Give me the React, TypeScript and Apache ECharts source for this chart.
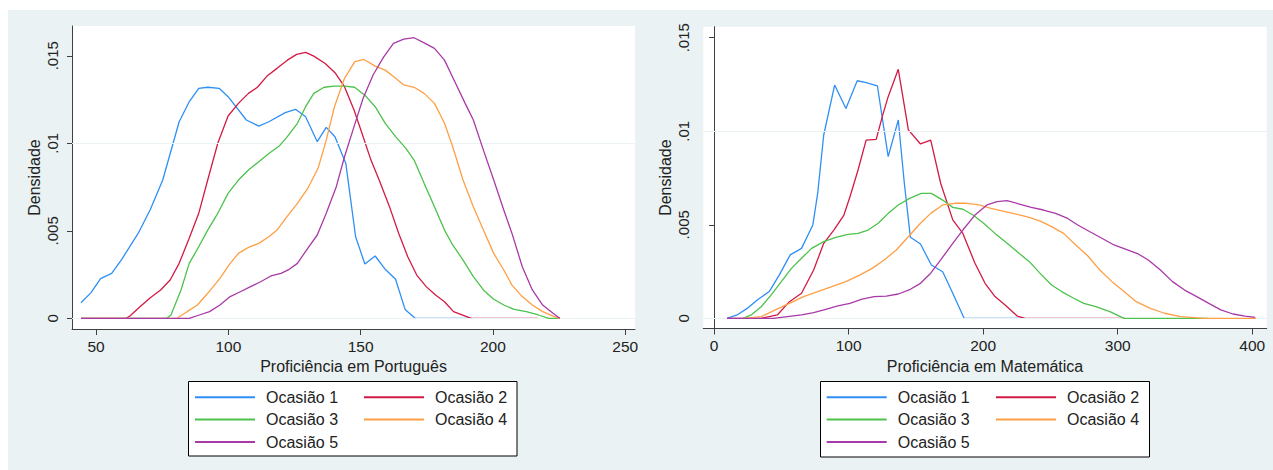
import React, { useEffect, useRef } from "react";
import * as echarts from "echarts";

const occasionNames = ["Ocasião 1", "Ocasião 2", "Ocasião 3", "Ocasião 4", "Ocasião 5"];
const occasionColors = ["#2F8FF5", "#D21A44", "#4CC24C", "#FF9F45", "#A83AA8"];

const yTickValues = [0, 0.005, 0.01, 0.015];
const yTickLabels = ["0", ".005", ".01", ".015"];
const portTicks = [50, 100, 150, 200, 250];
const matTicks = [0, 100, 200, 300, 400];
const portTitle = "Proficiência em Português";
const matTitle = "Proficiência em Matemática";
const yTitle = "Densidade";

// Proficiência em Português — densidade por ocasião [x, densidade]
const port1: number[][] = [[44.3,.00089],[48.1,.00147],[51.7,.00227],[55.9,.00257],[59.7,.00337],[65.9,.00485],[70.5,.00622],[75.2,.0079],[81.4,.01123],[85.2,.01237],[88.8,.01314],[92.2,.0132],[96.5,.01314],[99.9,.01266],[106.8,.01133],[111.5,.01098],[115.3,.01123],[121.5,.01175],[125.4,.01194],[129.2,.01152],[133.6,.01009],[137,.01091],[140.3,.01037],[144.4,.00885],[148.1,.00466],[151.6,.0031],[155.5,.00356],[159.3,.0028],[163.2,.00223],[166.8,.00051],[170.6,0],[192,0]];
const port2: number[][] = [[44.3,0],[61.3,0],[62.8,.00013],[66.7,.00067],[70.5,.00118],[74.4,.00162],[78,.00219],[81.4,.00314],[85.2,.00457],[88.8,.006],[92.2,.0079],[96,.01],[99.9,.01156],[103.8,.01228],[107.6,.01285],[111,.0132],[114.6,.01384],[118.4,.01428],[122.3,.01475],[125.8,.01508],[129.2,.01519],[132.3,.01498],[136.6,.01456],[140.3,.01403],[143.9,.01323],[147.5,.0119],[150.5,.01057],[153.9,.00904],[157,.0079],[160.9,.00638],[164.4,.00485],[167.8,.00352],[171.2,.00247],[174.8,.00181],[178.3,.00133],[181.7,.00095],[185.1,.00038],[191.8,0],[217,0]];
const port3: number[][] = [[44.3,0],[76.7,0],[78.3,.00019],[82.1,.00162],[85.2,.00314],[88.8,.00409],[92.2,.00504],[96,.006],[99.9,.00714],[103.8,.0079],[107.6,.00847],[111.5,.00895],[115.3,.00942],[119.2,.00984],[122.3,.01038],[126.1,.01114],[129.2,.01209],[132.3,.01285],[136.2,.0132],[140,.01327],[143.9,.01327],[147.7,.0132],[151.6,.01275],[155.5,.01209],[159.3,.01114],[163.2,.01038],[167.1,.00971],[170.2,.00904],[174,.00771],[177.9,.00638],[181.7,.00504],[184.8,.00419],[188.7,.00333],[192.6,.00238],[196.4,.00162],[200.3,.00109],[204.1,.00076],[208,.00051],[212.6,.00038],[217.2,.00019],[221.1,0],[225.3,0]];
const port4: number[][] = [[44.3,0],[80.6,0],[84.4,.00038],[88.3,.00076],[92.2,.00143],[96.8,.00228],[100.7,.00314],[103.8,.00371],[107.6,.00405],[111.5,.00428],[115.3,.00466],[118.4,.00504],[122.3,.00584],[126.1,.00657],[130,.00742],[133.9,.00857],[137,.01018],[140.1,.01209],[143.9,.01371],[147.8,.01466],[151.3,.01479],[155.5,.01441],[159.3,.01418],[162.9,.01376],[166.3,.01333],[170.2,.0132],[174,.01285],[177.9,.01228],[181.7,.01114],[184.8,.0098],[188.7,.0079],[192.6,.00638],[196.4,.00504],[200.3,.00371],[204.1,.00276],[207.2,.0019],[211.1,.00124],[214.9,.00076],[218.8,.00038],[222.7,.00013],[225.3,0]];
const port5: number[][] = [[44.3,0],[85.2,0],[89,.00019],[92.9,.00038],[96.8,.00076],[100.7,.00124],[104.5,.00152],[108.4,.00181],[112.2,.00209],[116.1,.00242],[119.9,.00257],[123,.0028],[126.1,.00314],[130,.004],[133.6,.00476],[137,.006],[140.8,.00752],[143.9,.00923],[147.5,.01095],[150.9,.01256],[154.7,.0139],[158.6,.01491],[162.4,.01571],[166.3,.01595],[170.2,.01603],[174,.01574],[177.9,.01542],[181.7,.01475],[185.6,.01352],[189.5,.01228],[192.6,.01133],[196.4,.00961],[200.3,.0079],[204.1,.00619],[207.2,.00485],[211.1,.00295],[214.9,.00162],[218.8,.00076],[222.7,.00029],[225.3,0]];

// Proficiência em Matemática — densidade por ocasião [x, densidade]
const mat1: number[][] = [[9.6,0],[17.1,.00018],[24.6,.00053],[32.1,.00098],[41,.00143],[48.5,.00232],[56.6,.00339],[65,.00374],[73.4,.00499],[77,.00668],[81.5,.0098],[89.6,.01247],[98,.01122],[106.4,.0127],[113,.0126],[121.4,.01242],[129.4,.00864],[136.9,.0106],[141.4,.00722],[145.9,.00433],[153.4,.00397],[161.5,.00285],[169.9,.00249],[177.4,.00134],[185.8,0],[229.6,0]];
const mat2: number[][] = [[9.6,0],[35,0],[47,.00018],[56,.00089],[65,.00134],[74,.00258],[81.5,.00401],[89,.00472],[96.5,.00552],[101,.0065],[107,.00793],[113,.00953],[120.5,.00957],[125,.01078],[129.4,.01185],[136.9,.01331],[144.4,.01007],[153.4,.00932],[161,.00953],[168.4,.00722],[177.4,.00526],[184.9,.00454],[193.9,.00294],[201.4,.00187],[208.8,.00116],[216.3,.00071],[225.3,.00012],[231.3,0],[305,0]];
const mat3: number[][] = [[21.6,0],[27.6,.00018],[35,.00062],[42.5,.00125],[50,.00196],[57.5,.00267],[65,.00321],[72.5,.00374],[81.5,.0041],[90.5,.00433],[99.5,.00449],[107,.00454],[114.5,.00472],[122,.00508],[129.4,.00561],[136.9,.00606],[145.3,.00641],[154,.00668],[161.5,.00668],[169.9,.00632],[177.4,.00593],[184.9,.00583],[192.4,.00552],[199.9,.00511],[208.8,.00454],[217.8,.00401],[226.8,.00347],[234.3,.00303],[241.8,.00244],[250.8,.00178],[258.3,.00143],[267.3,.00107],[274.8,.0008],[283.7,.00062],[294.2,.00036],[304.7,0],[367,0]];
const mat4: number[][] = [[21.6,0],[35,.00009],[45.5,.00045],[56,.0008],[66.5,.00116],[77,.00143],[87.5,.00169],[98,.00196],[108.5,.00232],[117.5,.00267],[126.4,.00312],[135.4,.00365],[144.4,.00436],[153.4,.00508],[161,.00561],[169.9,.00606],[178.9,.00615],[187.9,.00615],[196.9,.00606],[205.8,.00588],[216.3,.0057],[225.3,.00556],[234.3,.0054],[243.3,.00517],[250.8,.0049],[259.8,.00454],[268.8,.00392],[277.8,.00333],[286.7,.00258],[295.7,.00196],[304.7,.00143],[313.7,.00089],[324.2,.00053],[334.7,.00027],[346.7,.00009],[364.7,0],[402.7,0]];
const mat5: number[][] = [[9.6,0],[44,0],[54.5,.00009],[65,.00018],[74,.0003],[83,.00048],[92,.00066],[101,.0008],[110,.00102],[119,.00116],[128,.00119],[136.9,.0013],[145.9,.00155],[153.4,.00187],[161,.00241],[168.4,.00312],[177.4,.00401],[184.9,.00472],[193.9,.00552],[202.8,.00606],[210.3,.00624],[217.8,.00629],[226.8,.00611],[235.8,.00593],[244.8,.00579],[253.8,.00561],[262.8,.00534],[270.3,.00499],[279.3,.00463],[288.2,.00428],[297.2,.00392],[306.2,.00369],[315.2,.00344],[322.7,.00312],[331.7,.00258],[340.7,.00196],[349.7,.00151],[358.7,.00116],[367.7,.0008],[376.6,.00045],[385.6,.00023],[394.6,.00012],[402.1,.00005]];

const portSeries = [port1, port2, port3, port4, port5];
const matSeries = [mat1, mat2, mat3, mat4, mat5];

const FONT = "'Liberation Sans', Arial, sans-serif";
const TEXT = "#222";
const AXIS = "#404040";
const BG = "#EAF2F3";

function xAxisDef(gridIndex: number, min: number, max: number, ticks: number[], title: string) {
  return {
    type: "value", gridIndex, min, max,
    axisLine: { show: true, onZero: false, lineStyle: { color: AXIS, width: 1 } },
    axisTick: { show: true, length: 6, customValues: ticks, lineStyle: { color: AXIS } },
    axisLabel: { customValues: ticks, margin: 9, color: TEXT, fontSize: 15.5, fontFamily: FONT },
    splitLine: { show: false },
    name: title, nameLocation: "middle", nameGap: 26,
    nameTextStyle: { color: TEXT, fontSize: 16, fontFamily: FONT },
  };
}

function yAxisDef(gridIndex: number, min: number, max: number) {
  return {
    type: "value", gridIndex, min, max,
    axisLine: { show: true, lineStyle: { color: AXIS, width: 1 } },
    axisTick: { show: true, length: 5, customValues: yTickValues, lineStyle: { color: AXIS } },
    axisLabel: {
      customValues: yTickValues, rotate: 90, margin: 12, color: TEXT, fontSize: 15, fontFamily: FONT,
      formatter: (v: number) => {
        const i = yTickValues.findIndex((t) => Math.abs(t - v) < 1e-9);
        return i >= 0 ? yTickLabels[i] : "";
      },
    },
    splitLine: { show: false },
    name: yTitle, nameLocation: "middle", nameGap: 30,
    nameTextStyle: { color: TEXT, fontSize: 16, fontFamily: FONT },
  };
}

function legendCol(left: number, names: string[]) {
  return {
    orient: "vertical", left, top: 379.2, padding: 0,
    itemWidth: 60, itemHeight: 2, itemGap: 6.4, icon: "rect",
    data: names,
    selectedMode: false,
    textStyle: { color: TEXT, fontSize: 16, fontFamily: FONT, lineHeight: 16, padding: [0, 0, 0, 6] },
  };
}

export default function App() {
  const ref = useRef<HTMLDivElement>(null);
  useEffect(() => {
    if (!ref.current) return;
    const chart = echarts.init(ref.current, undefined, { renderer: "svg" });
    const series: any[] = [];
    [0, 1].forEach((g) => {
      series.push({
        type: "line", xAxisIndex: g, yAxisIndex: g, data: [], z: 1, silent: true,
        markLine: {
          silent: true, symbol: "none", label: { show: false },
          lineStyle: { color: BG, width: 1.2, type: "solid" },
          data: yTickValues.map((v) => ({ yAxis: v })),
        },
      });
    });
    portSeries.forEach((d, i) => series.push({
      name: occasionNames[i], type: "line", xAxisIndex: 0, yAxisIndex: 0, data: d,
      showSymbol: false, symbol: "none", smooth: false, z: 3 + i,
      lineStyle: { color: occasionColors[i], width: 1.3 }, itemStyle: { color: occasionColors[i] },
    }));
    matSeries.forEach((d, i) => series.push({
      name: occasionNames[i], type: "line", xAxisIndex: 1, yAxisIndex: 1, data: d,
      showSymbol: false, symbol: "none", smooth: false, z: 3 + i,
      lineStyle: { color: occasionColors[i], width: 1.3 }, itemStyle: { color: occasionColors[i] },
    }));
    chart.setOption({
      animation: false,
      backgroundColor: BG,
      textStyle: { fontFamily: FONT },
      grid: [
        { left: 64, top: 16, width: 563, height: 303, show: true, backgroundColor: "#fff", borderWidth: 0 },
        { left: 695.3, top: 16.7, width: 563.4, height: 301.8, show: true, backgroundColor: "#fff", borderWidth: 0 },
      ],
      xAxis: [
        xAxisDef(0, 40.9, 253.7, portTicks, portTitle),
        xAxisDef(1, -8, 410.7, matTicks, matTitle),
      ],
      yAxis: [
        yAxisDef(0, -0.00061, 0.0167),
        yAxisDef(1, -0.000545, 0.01559),
      ],
      legend: [
        legendCol(187, [occasionNames[0], occasionNames[2], occasionNames[4]]),
        legendCol(356, [occasionNames[1], occasionNames[3]]),
        legendCol(818.7, [occasionNames[0], occasionNames[2], occasionNames[4]]),
        legendCol(988, [occasionNames[1], occasionNames[3]]),
      ],
      graphic: [
        { type: "rect", z: 0, shape: { x: 180.5, y: 371.5, width: 328.5, height: 74.5 }, style: { fill: "#fff", stroke: "#000", lineWidth: 1 } },
        { type: "rect", z: 0, shape: { x: 812.5, y: 371.5, width: 329, height: 75.5 }, style: { fill: "#fff", stroke: "#000", lineWidth: 1 } },
      ],
      series,
    });
    return () => chart.dispose();
  }, []);
  return (
    <div ref={ref} style={{ position: "absolute", left: 8, top: 10, width: 1265, height: 460 }} />
  );
}
